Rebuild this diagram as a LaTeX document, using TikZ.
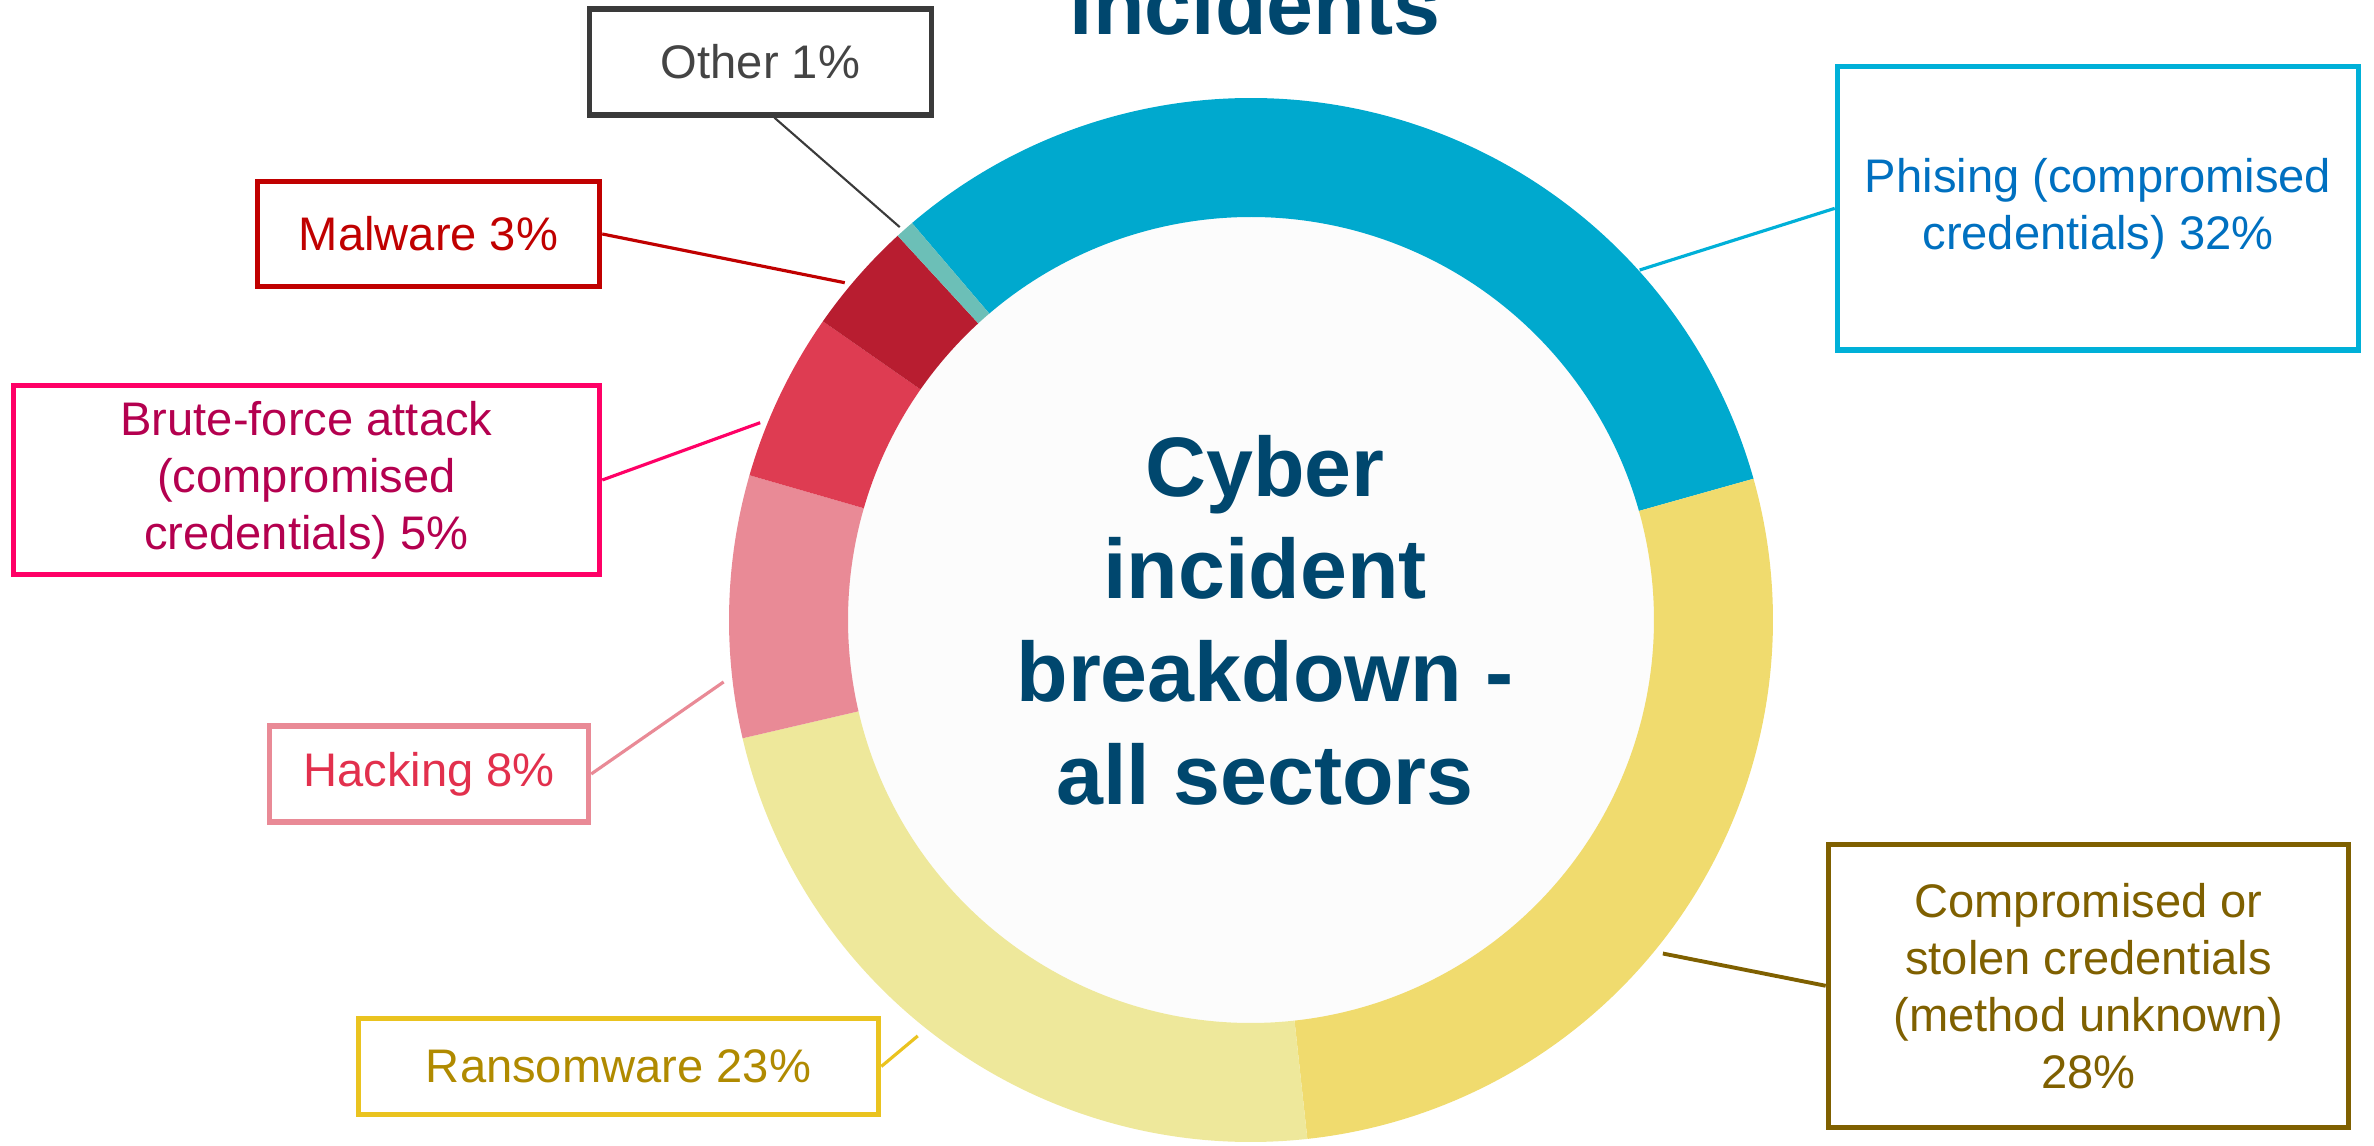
\documentclass[tikz,border=0pt]{standalone}
\usepackage{tikz}
\usepackage{xcolor}
\usepackage{fontspec}
\setmainfont{Liberation Sans}
\definecolor{phishblue}{HTML}{00A9CE}
\definecolor{credyellow}{HTML}{F0DB6E}
\definecolor{ransomyellow}{HTML}{EEE89B}
\definecolor{hackpink}{HTML}{E98A96}
\definecolor{brutered}{HTML}{DE3C52}
\definecolor{malred}{HTML}{B81D30}
\definecolor{otherteal}{HTML}{6CBFB7}
\definecolor{innergray}{HTML}{FCFCFC}
\definecolor{titleblue}{HTML}{00476E}
\definecolor{othergray}{HTML}{3A3A3A}
\definecolor{maltext}{HTML}{C00000}
\definecolor{bruteline}{HTML}{FF0066}
\definecolor{brutetext}{HTML}{B4004F}
\definecolor{hacktext}{HTML}{E2304D}
\definecolor{ransomline}{HTML}{EAC31F}
\definecolor{ransomtext}{HTML}{B08A00}
\definecolor{credtext}{HTML}{7F6000}
\definecolor{phishline}{HTML}{00B0D8}
\definecolor{phishtext}{HTML}{0070C0}

\begin{document}
\begin{tikzpicture}[x=0.01cm, y=0.01cm,
                callout/.style={draw, line width=1.5pt, align=center, inner sep=0pt,
                    font=\fontsize{13.4}{16.2}\selectfont},
                leader/.style={line width=0.9pt},
                bigtitle/.style={text=titleblue, align=center,
                    font=\fontsize{24}{29.2}\selectfont\bfseries}]
                \useasboundingbox (0,0) rectangle (2374,1146);

                \begin{scope}[shift={(1251,526)}]
                    \fill[innergray] (0,0) circle (403);
                    \foreach \a/\b/\col in {130.5/15.7/phishblue, 15.7/-83.8/credyellow,
                        -83.8/-166.9/ransomyellow, -166.9/-196.1/hackpink,
                        163.9/145.1/brutered, 145.1/132.6/malred, 132.6/130.5/otherteal}
                        \fill[\col] (\a:522) arc[start angle=\a, end angle=\b, radius=522]
                            -- (\b:403) arc[start angle=\b, end angle=\a, radius=403] -- cycle;

                    \coordinate (pphish) at (42:523);
                    \coordinate (pcred) at (-39:530);
                    \coordinate (pransom) at (231.3:533);
                    \coordinate (phack) at (186.7:531);
                    \coordinate (pbrute) at (158.1:529);
                    \coordinate (pmal) at (140.3:528);
                    \coordinate (pother) at (131.8:527);
                \end{scope}

                \node[bigtitle, anchor=base] (toptitle) at (1255,1111) {incidents};
                \node[bigtitle] (title) at (1265,526) {Cyber\\incident\\breakdown -\\all sectors};

                \node[callout, draw=othergray, text=othergray!95!white,
                    minimum width=3.42cm, minimum height=1.06cm] (other) at (760.5,1084) {Other 1\%};
                \node[callout, draw=maltext, text=maltext,
                    minimum width=3.42cm, minimum height=1.05cm] (malware) at (428.5,912) {Malware 3\%};
                \node[callout, draw=bruteline, text=brutetext,
                    minimum width=5.86cm, minimum height=1.89cm] (brute) at (306.5,666)
                    {Brute-force attack\\(compromised\\credentials) 5\%};
                \node[callout, draw=hackpink, text=hacktext,
                    minimum width=3.19cm, minimum height=0.96cm] (hacking) at (429,372) {Hacking 8\%};
                \node[callout, draw=ransomline, text=ransomtext,
                    minimum width=5.2cm, minimum height=0.96cm] (ransom) at (618.5,79.5) {Ransomware 23\%};
                \node[callout, draw=phishline, text=phishtext,
                    minimum width=5.21cm, minimum height=2.83cm] (phish) at (2098,937.6)
                    {Phising (compromised\\credentials) 32\%};
                \node[callout, draw=credtext, text=credtext,
                    minimum width=5.2cm, minimum height=2.83cm] (cred) at (2088.5,160.2)
                    {Compromised or\\stolen credentials\\(method unknown)\\28\%};

                \draw[leader, othergray, line width=0.6pt] (other.-76) -- (pother);
                \draw[leader, maltext] (malware.east) -- (pmal);
                \draw[leader, bruteline] (brute.east) -- (pbrute);
                \draw[leader, hackpink] (hacking.east) -- (phack);
                \draw[leader, ransomline] (ransom.east) -- (pransom);
                \draw[leader, phishline] (phish.west) -- (pphish);
                \draw[leader, credtext, line width=1.1pt] (cred.west) -- (pcred);
            \end{tikzpicture}
\end{document}
